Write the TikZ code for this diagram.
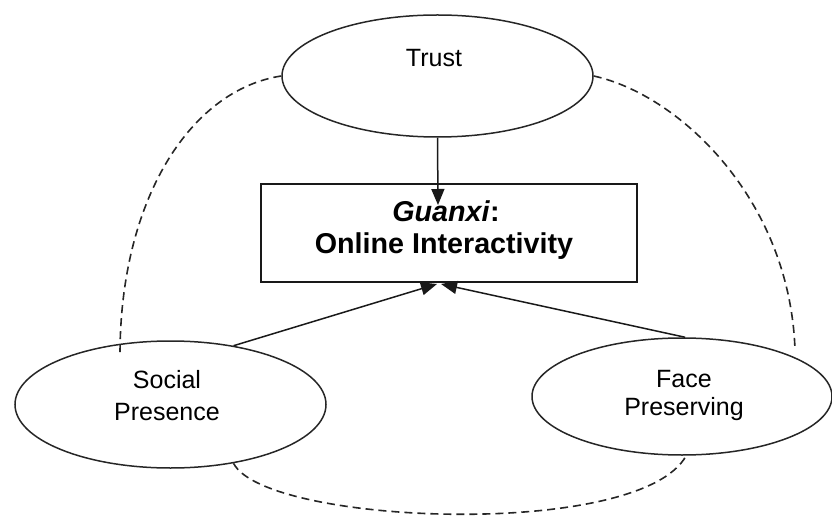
\documentclass[tikz,border=0pt]{standalone}
\usepackage{fontspec}
\setmainfont{Liberation Sans}
\usetikzlibrary{shapes.geometric,arrows.meta}
\begin{document}
\begin{tikzpicture}[x=1pt,y=-1pt,
 oval/.style={draw=black!85,ellipse,line width=1.5pt,inner sep=0pt},
 dashlink/.style={draw=black!85,line width=1.6pt,dash pattern=on 8pt off 5pt},
 arr/.style={draw=black!90,line width=1.5pt,-{Triangle[length=16pt,width=13pt]}},
 lbl/.style={anchor=base,inner sep=0pt,font=\fontsize{25}{30}\selectfont},
 blbl/.style={anchor=base,inner sep=0pt,font=\fontsize{28.7}{32}\selectfont\bfseries}]
\useasboundingbox (0,0) rectangle (832,521);
\node[oval,minimum width=311pt,minimum height=122pt] (trust) at (437.5,76) {};
\node[oval,minimum width=311pt,minimum height=127pt] (social) at (170.5,404.5) {};
\node[oval,minimum width=300pt,minimum height=117pt] (face) at (682,396.5) {};
\node[draw=black!90,line width=1.5pt,minimum width=376pt,minimum height=98pt,inner sep=0pt] (box) at (449,233) {};
\node[lbl] (trusttext) at (434,67) {Trust};
\node[lbl] (soc1) at (167,388) {Social};
\node[lbl] (soc2) at (167,420) {Presence};
\node[lbl] (face1) at (684,387) {Face};
\node[lbl] (face2) at (684,415) {Preserving};
\node[blbl] (g1) at (446,222) {\textit{Guanxi}:};
\node[blbl] (g2) at (444,254) {Online Interactivity};
\coordinate (tip1) at (438,205);
\coordinate (tip2) at (437,284);
\coordinate (tip3) at (441,284);
\coordinate (socdash) at (120,355);
\draw[arr] (trust.south) -- (tip1);
\draw[arr] (social.43) -- (tip2);
\draw[arr] (face.87) -- (tip3);
\draw[dashlink] (trust.west) .. controls (190,90) and (120,200) .. (socdash);
\draw[dashlink] (trust.east) .. controls (680,95) and (790,200) .. (795,350);
\draw[dashlink] (social.-43) .. controls (265,525) and (640,540) .. (face.-86);
\end{tikzpicture}
\end{document}
